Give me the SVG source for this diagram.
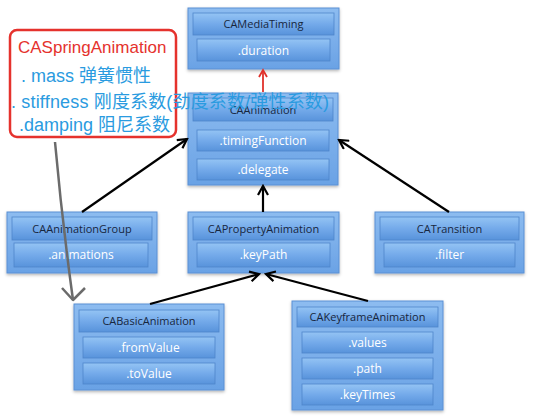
<svg xmlns="http://www.w3.org/2000/svg" width="534" height="418" viewBox="0 0 534 418">
<defs>
<linearGradient id="gOuter" x1="0" y1="0" x2="0" y2="1">
<stop offset="0" stop-color="#8dbcf0"/>
<stop offset="1" stop-color="#6aa2e5"/>
</linearGradient>
<linearGradient id="gBar" x1="0" y1="0" x2="0" y2="1">
<stop offset="0" stop-color="#94c4f4"/>
<stop offset="0.5" stop-color="#74aaea"/>
<stop offset="1" stop-color="#5893db"/>
</linearGradient>
<filter id="sh" x="-10%" y="-10%" width="120%" height="130%">
<feDropShadow dx="0" dy="1.5" stdDeviation="1.5" flood-color="#000" flood-opacity="0.3"/>
</filter>
<marker id="ah" markerWidth="12" markerHeight="12" refX="10" refY="6" orient="auto" markerUnits="userSpaceOnUse">
<path d="M1,1 L10,6 L1,11" fill="none" stroke="#000" stroke-width="2.2"/>
</marker>
<marker id="ahr" markerWidth="10" markerHeight="10" refX="8" refY="5" orient="auto" markerUnits="userSpaceOnUse">
<path d="M1,1 L8,5 L1,9" fill="none" stroke="#e0312b" stroke-width="1.8"/>
</marker>
</defs>
<style>
.outer{fill:url(#gOuter);stroke:#5a90d4;stroke-width:1;filter:url(#sh)}
.bar{fill:url(#gBar);stroke:#4f85ca;stroke-width:0.8}
.hd{font-family:"Open Sans","Liberation Sans",sans-serif;font-size:11px;fill:#17263d;text-anchor:middle}
.at{font-family:"Open Sans","Liberation Sans",sans-serif;font-size:12px;fill:#ffffff;text-anchor:middle}
.conn{stroke:#000;stroke-width:2.2;fill:none;marker-end:url(#ah)}
.sp{font-family:"Liberation Sans","Noto Sans CJK SC",sans-serif;font-size:18px;fill:#2a9be0}
</style>
<rect width="534" height="418" fill="#ffffff"/>

<g id="CAMediaTiming">
<rect class="outer" x="188" y="8" width="151" height="61"/>
<rect class="bar" x="193" y="13" width="141" height="22"/>
<text class="hd" x="263.5" y="28">CAMediaTiming</text>
<rect class="bar" x="197" y="39" width="133" height="22"/>
<text class="at" x="263.5" y="54.5">.duration</text>
</g>

<g id="CAAnimation">
<rect class="outer" x="188" y="93" width="150" height="92"/>
<rect class="bar" x="193" y="98" width="140" height="23"/>
<text class="hd" x="263" y="114">CAAnimation</text>
<rect class="bar" x="197" y="130" width="132" height="21"/>
<text class="at" x="263" y="145">.timingFunction</text>
<rect class="bar" x="197" y="159" width="132" height="21"/>
<text class="at" x="263" y="174">.delegate</text>
</g>

<g id="CAAnimationGroup">
<rect class="outer" x="7" y="212" width="150" height="61"/>
<rect class="bar" x="12" y="217" width="140" height="23"/>
<text class="hd" x="82" y="233">CAAnimationGroup</text>
<rect class="bar" x="14" y="243" width="134" height="24"/>
<text class="at" x="81" y="259">.animations</text>
</g>

<g id="CAPropertyAnimation">
<rect class="outer" x="188" y="212" width="151" height="61"/>
<rect class="bar" x="193" y="217" width="141" height="23"/>
<text class="hd" x="263.5" y="233">CAPropertyAnimation</text>
<rect class="bar" x="197" y="243" width="133" height="24"/>
<text class="at" x="263.5" y="259">.keyPath</text>
</g>

<g id="CATransition">
<rect class="outer" x="375" y="212" width="149" height="61"/>
<rect class="bar" x="380" y="217" width="139" height="23"/>
<text class="hd" x="449.5" y="233">CATransition</text>
<rect class="bar" x="384" y="243" width="131" height="24"/>
<text class="at" x="449.5" y="259">.filter</text>
</g>

<g id="CABasicAnimation">
<rect class="outer" x="74" y="304" width="150" height="86"/>
<rect class="bar" x="79" y="310" width="140" height="22"/>
<text class="hd" x="149" y="325">CABasicAnimation</text>
<rect class="bar" x="83" y="337" width="132" height="21"/>
<text class="at" x="149" y="352">.fromValue</text>
<rect class="bar" x="83" y="363" width="132" height="21"/>
<text class="at" x="149" y="378">.toValue</text>
</g>

<g id="CAKeyframeAnimation">
<rect class="outer" x="292" y="301" width="151" height="109"/>
<rect class="bar" x="297" y="307" width="141" height="20"/>
<text class="hd" x="367.5" y="321">CAKeyframeAnimation</text>
<rect class="bar" x="302" y="332" width="131" height="21"/>
<text class="at" x="367.5" y="347">.values</text>
<rect class="bar" x="302" y="358" width="131" height="21"/>
<text class="at" x="367.5" y="373">.path</text>
<rect class="bar" x="302" y="384" width="131" height="21"/>
<text class="at" x="367.5" y="399">.keyTimes</text>
</g>

<g id="connectors">
<line x1="263" y1="92" x2="263" y2="70" stroke="#e0312b" stroke-width="1.8" marker-end="url(#ahr)"/>
<line class="conn" x1="82" y1="212" x2="187" y2="139"/>
<line class="conn" x1="263" y1="212" x2="263" y2="186"/>
<line class="conn" x1="449" y1="212" x2="339" y2="140"/>
<line class="conn" x1="150" y1="304" x2="259" y2="274"/>
<line class="conn" x1="368" y1="301" x2="266" y2="274"/>
<path d="M55,142 Q62,220 73,300" fill="none" stroke="#6b6b6b" stroke-width="2.5"/>
<path d="M62,288 L73,300 L85,288" fill="none" stroke="#6b6b6b" stroke-width="2.5" stroke-linejoin="round"/>
</g>

<g id="CASpringAnimation">
<rect x="10" y="30" width="166" height="107" rx="7" fill="#ffffff" stroke="#e5322d" stroke-width="2.5"/>
<text x="18" y="53" font-family="Liberation Sans, sans-serif" font-size="17px" fill="#e5322d">CASpringAnimation</text>
<text class="sp" x="21" y="82">. mass 弹簧惯性</text>
<text class="sp" x="11" y="108" textLength="318" lengthAdjust="spacing">. stiffness 刚度系数(劲度系数/弹性系数)</text>
<text class="sp" x="19" y="131">.damping 阻尼系数</text>
</g>
</svg>
